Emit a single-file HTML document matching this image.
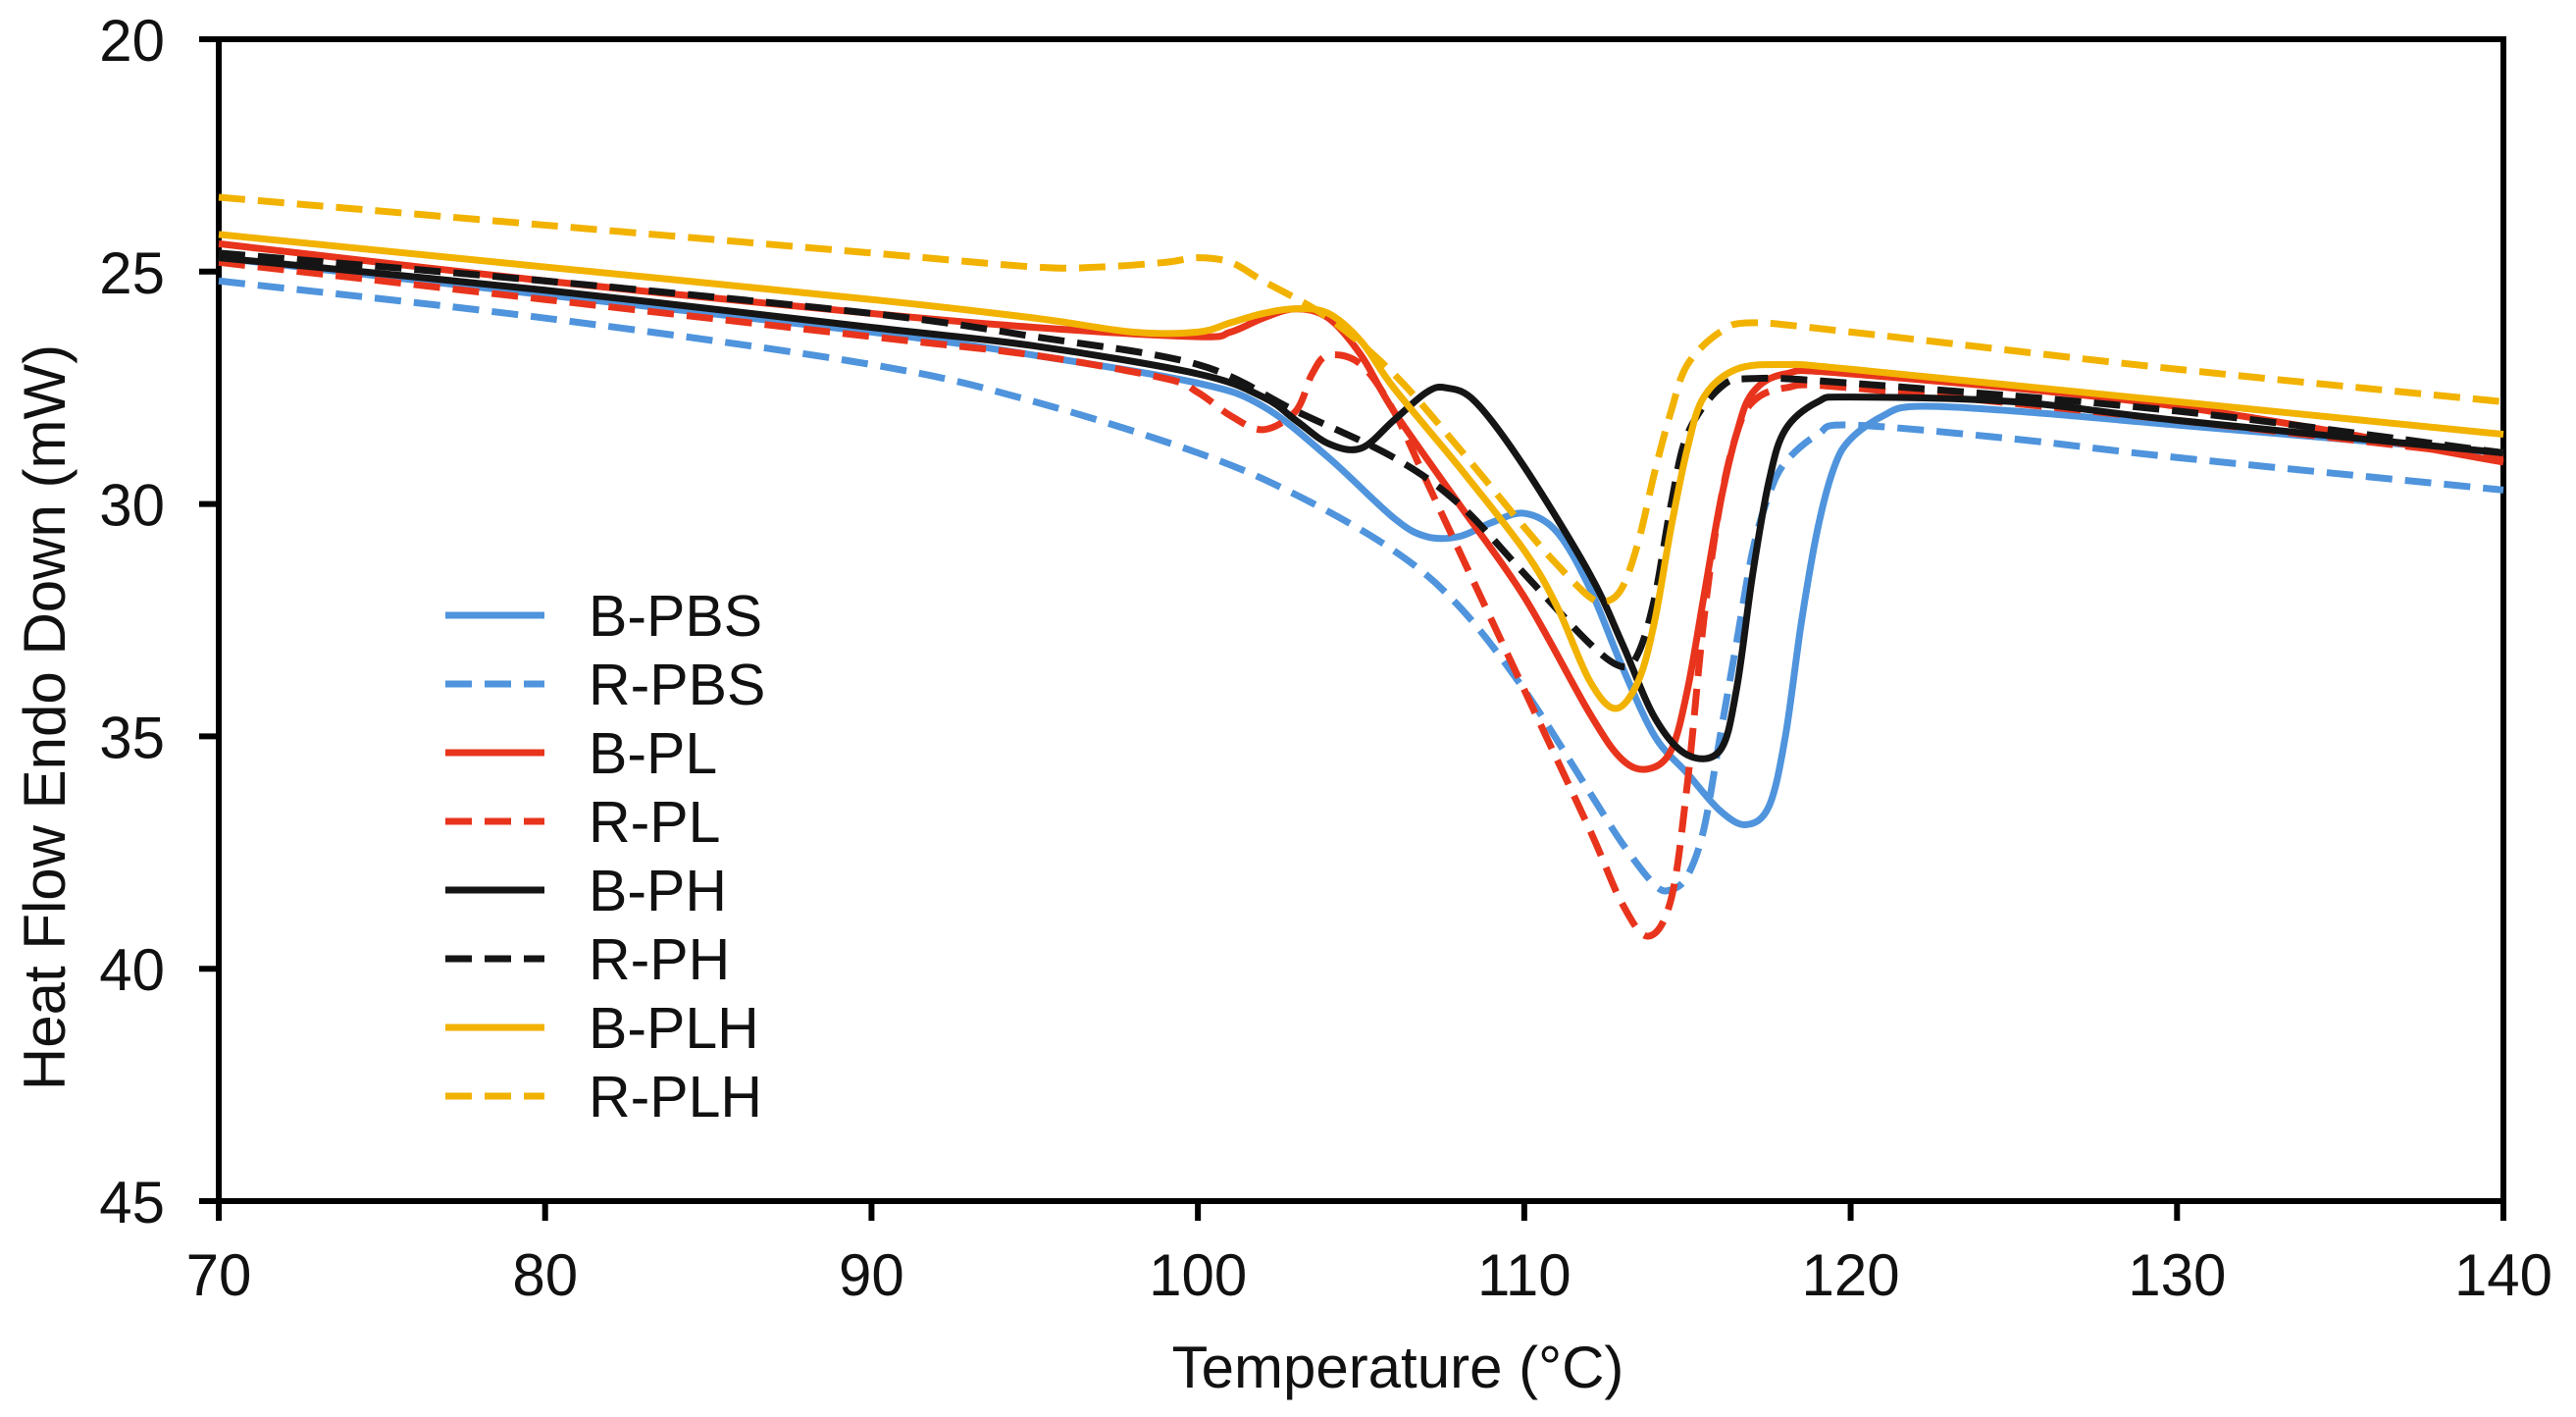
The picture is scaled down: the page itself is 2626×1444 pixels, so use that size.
<!DOCTYPE html>
<html><head><meta charset="utf-8"><style>
html,body{margin:0;padding:0;background:#fff;}
svg{display:block;font-family:"Liberation Sans",Arial,sans-serif;}
</style></head><body>
<svg id="chart" width="2626" height="1444" viewBox="0 0 2626 1444" xmlns="http://www.w3.org/2000/svg">
<g id="grid"></g>
<g id="series"></g>
<g id="legend"></g>
<text x="1425" y="1414" font-size="60" text-anchor="middle" fill="#111">Temperature (°C)</text>
<text transform="translate(66,731) rotate(-90)" font-size="60" text-anchor="middle" fill="#111">Heat Flow Endo Down (mW)</text>
</svg>
<script>
const xTicks=[70,80,90,100,110,120,130,140];
const yTicks=[20,25,30,35,40,45];
const seriesNames=["B-PBS","R-PBS","B-PL","R-PL","B-PH","R-PH","B-PLH","R-PLH"];
const seriesColors=["#4f94dc","#4f94dc","#e8341c","#e8341c","#151515","#151515","#f2b200","#f2b200"];
const seriesDashed=[false,true,false,true,false,true,false,true];
const bpbsX=[70,80,90,95,100,102,104,106,107,108,109,110,111,112,113,114,115,116,116.8,117.5,118,118.5,119,119.5,120,121,122,125,130,140];
const bpbsY=[24.7,25.5,26.3,26.8,27.4,27.9,29,30.3,30.7,30.7,30.4,30.2,30.6,31.8,33.5,35,35.8,36.6,36.9,36.5,35,32.5,30.5,29.2,28.6,28.1,27.9,28,28.3,28.9];
const rpbsX=[70,80,90,95,100,103,106,108,110,112,113,114,114.5,115,115.5,116,116.5,117,117.5,118,119,120,125,130,140];
const rpbsY=[25.2,26,27,27.8,28.9,29.8,31,32.2,34,36.2,37.3,38.2,38.3,38,37,35,33,31,29.8,29.1,28.5,28.3,28.6,29,29.7];
const bplX=[70,80,90,95,100,101,102,103,104,105,106,108,110,112,113,113.8,114.5,115,115.5,116,116.5,117,118,120,130,140];
const bplY=[24.4,25.2,25.9,26.2,26.4,26.3,26,25.8,26,26.8,28,30,32,34.5,35.5,35.7,35.3,34,32,30,28.5,27.6,27.2,27.2,27.9,29.1];
const rplX=[70,80,90,95,99,100,101,102,103,103.5,104,105,106,107,108,110,112,113,113.8,114.5,115,115.5,116,116.5,117,118,120,130,140];
const rplY=[24.8,25.6,26.4,26.8,27.3,27.6,28.1,28.4,28,27.2,26.8,27,28,29.5,31,34,37,38.6,39.3,38.5,36,32.5,30,28.5,27.8,27.5,27.5,28.2,29.0];
const bphX=[70,80,90,95,100,102,103,104,105,106,107,107.6,108.5,110,112,113,114,115,116,116.5,117,117.5,118,119,120,125,130,140];
const bphY=[24.7,25.4,26.2,26.6,27.2,27.7,28.2,28.7,28.8,28.2,27.6,27.5,27.8,29.2,31.5,33,34.6,35.4,35.3,34,31.5,29.5,28.4,27.8,27.7,27.8,28.2,28.9];
const rphX=[70,80,90,95,100,103,106,108,110,112,113,113.5,114,114.5,115,116,117,120,130,140];
const rphY=[24.6,25.2,25.9,26.4,27,28,29,30,31.5,33,33.5,33.2,32,30,28.5,27.5,27.3,27.4,28,28.9];
const bplhX=[70,80,90,95,98,100,101,102,103,104,105,106,108,110,111,112,112.8,113.5,114,114.5,115,115.5,116.5,118,120,130,140];
const bplhY=[24.2,24.9,25.6,26,26.3,26.3,26.1,25.9,25.8,25.9,26.5,27.5,29.2,31,32.2,33.8,34.4,33.8,32.5,30.5,28.8,27.7,27.1,27,27.1,27.8,28.5];
const rplhX=[70,80,90,95,97,99,100,101,102,104,106,108,110,111,112,112.5,113,113.5,114,114.5,115,116,117,120,130,140];
const rplhY=[23.4,24,24.6,24.9,24.9,24.8,24.7,24.8,25.2,26,27.2,28.8,30.5,31.3,32,32.1,31.8,30.8,29.3,28,27,26.3,26.1,26.3,27.1,27.8];
const seriesX=[bpbsX,rpbsX,bplX,rplX,bphX,rphX,bplhX,rplhX];
const seriesY=[bpbsY,rpbsY,bplY,rplY,bphY,rphY,bplhY,rplhY];

const L=223,R=2552,T=40,B=1224;
const sx=v=>L+(v-70)/(140-70)*(R-L);
const sy=v=>T+(v-20)/(45-20)*(B-T);
const NS="http://www.w3.org/2000/svg";
function mk(tag,attrs,parent){const e=document.createElementNS(NS,tag);for(const k in attrs)e.setAttribute(k,attrs[k]);parent.appendChild(e);return e;}
const grid=document.getElementById('grid');
let box=mk('rect',{x:L,y:T,width:R-L,height:B-T,fill:'none',stroke:'#000','stroke-width':6},grid);


xTicks.forEach(t=>{
  const tk=mk('line',{x1:sx(t),x2:sx(t),y1:B,y2:B+20,stroke:'#000','stroke-width':6},grid);
  
  
  const lb=mk('text',{x:sx(t),y:B+96,'font-size':60,'text-anchor':'middle',fill:'#111'},grid);
  lb.textContent=t;
  
  
});
yTicks.forEach(t=>{
  const tk=mk('line',{x1:L-20,x2:L,y1:sy(t),y2:sy(t),stroke:'#000','stroke-width':6},grid);
  
  
  const lb=mk('text',{x:168,y:sy(t)+22,'font-size':60,'text-anchor':'end',fill:'#111'},grid);
  lb.textContent=t;
  
  
});
function pathFor(xs,ys){
  const p=xs.map((x,i)=>[sx(x),sy(ys[i])]);
  let d='M'+p[0][0]+','+p[0][1];
  for(let i=0;i<p.length-1;i++){
    const p0=p[Math.max(0,i-1)],p1=p[i],p2=p[i+1],p3=p[Math.min(p.length-1,i+2)];
    const c1=[p1[0]+(p2[0]-p0[0])/6,p1[1]+(p2[1]-p0[1])/6];
    const c2=[p2[0]-(p3[0]-p1[0])/6,p2[1]-(p3[1]-p1[1])/6];
    d+=' C'+c1[0]+','+c1[1]+' '+c2[0]+','+c2[1]+' '+p2[0]+','+p2[1];
  }
  return d;
}
const sg=document.getElementById('series'),lg=document.getElementById('legend');
seriesNames.forEach((n,i)=>{
  const a={d:pathFor(seriesX[i],seriesY[i]),fill:'none',stroke:seriesColors[i],'stroke-width':7,'stroke-linejoin':'round'};
  if(seriesDashed[i])a['stroke-dasharray']='27 13';
  const ln=mk('path',a,sg);
  
  
  const y=627+i*70;
  const la={x1:454,x2:555,y1:y,y2:y,stroke:seriesColors[i],'stroke-width':7};
  if(seriesDashed[i])la['stroke-dasharray']='27 13';
  const sw=mk('line',la,lg);
  
  
  const tx=mk('text',{x:600,y:y+21,'font-size':59,fill:'#111'},lg);
  tx.textContent=n;
  
  
});
</script>
</body></html>
